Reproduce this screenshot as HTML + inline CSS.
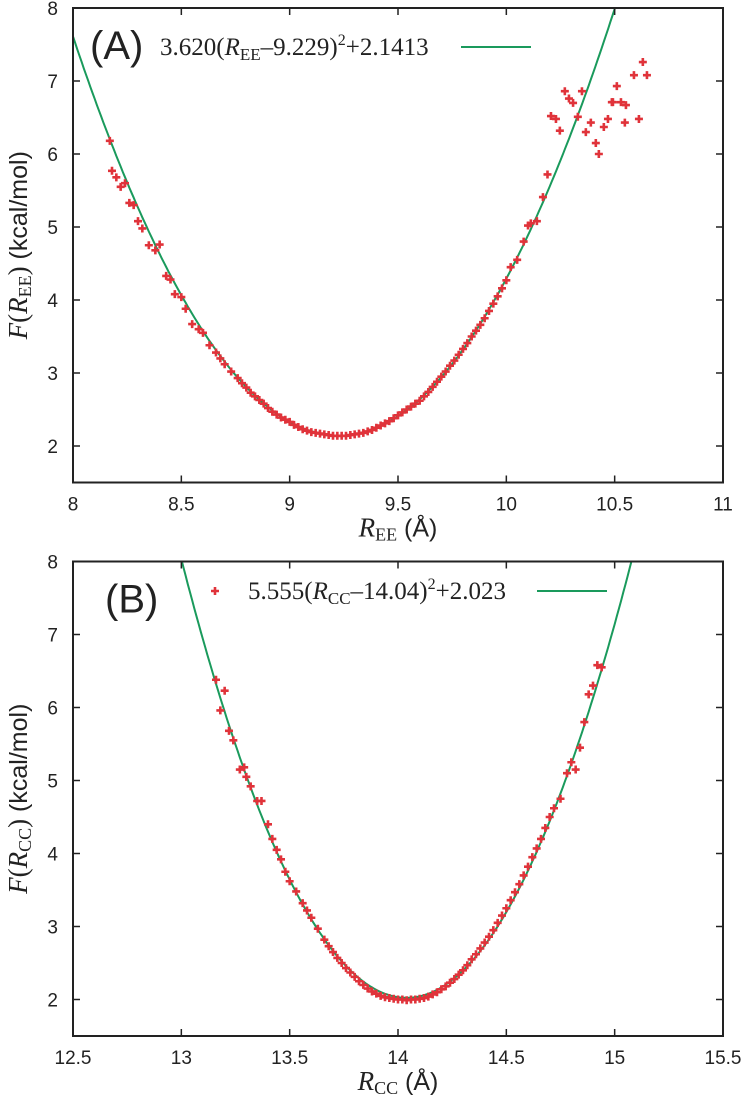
<!DOCTYPE html>
<html><head><meta charset="utf-8"><style>
html,body{margin:0;padding:0;background:#fff;}
svg text{font-family:"Liberation Sans",sans-serif;fill:#222;}
.ser{font-family:"Liberation Serif",serif !important;}
</style></head><body>
<svg id="chart" width="746" height="1100" viewBox="0 0 746 1100" xmlns="http://www.w3.org/2000/svg">
<g id="pa"></g>
<g id="pb"></g>
</svg>
<script>
// Panel A data
const aX = [8.17,8.18,8.2,8.22,8.24,8.26,8.28,8.3,8.32,8.35,8.38,8.4,8.43,8.45,8.47,8.5,8.52,8.55,8.58,8.6,8.63,8.66,8.68,8.7,8.73,8.76,8.78,8.8,8.82,8.84,8.86,8.88,8.9,8.92,8.94,8.96,8.98,9.0,9.02,9.04,9.06,9.08,9.1,9.12,9.14,9.16,9.18,9.2,9.22,9.24,9.26,9.28,9.3,9.32,9.34,9.36,9.38,9.4,9.42,9.44,9.46,9.48,9.5,9.52,9.54,9.56,9.58,9.6,9.62,9.64,9.66,9.68,9.7,9.72,9.74,9.76,9.78,9.8,9.82,9.84,9.86,9.88,9.9,9.92,9.94,9.96,9.98,10.0,10.02,10.05,10.08,10.1,10.113,10.141,10.169,10.19,10.206,10.229,10.247,10.27,10.289,10.308,10.33,10.349,10.367,10.39,10.413,10.427,10.45,10.469,10.487,10.492,10.51,10.529,10.547,10.552,10.589,10.612,10.63,10.649];
const aY = [6.18,5.77,5.68,5.55,5.6,5.33,5.3,5.08,4.98,4.75,4.68,4.76,4.33,4.28,4.08,4.04,3.88,3.67,3.6,3.55,3.38,3.28,3.2,3.12,3.02,2.93,2.86,2.8,2.73,2.68,2.63,2.58,2.52,2.47,2.43,2.39,2.36,2.33,2.29,2.26,2.23,2.21,2.19,2.18,2.17,2.16,2.15,2.14,2.14,2.14,2.14,2.15,2.16,2.17,2.18,2.2,2.22,2.25,2.28,2.31,2.34,2.38,2.42,2.46,2.5,2.54,2.58,2.62,2.68,2.74,2.81,2.88,2.95,3.02,3.1,3.17,3.25,3.33,3.41,3.5,3.58,3.66,3.75,3.85,3.95,4.05,4.16,4.27,4.45,4.55,4.8,5.02,5.05,5.08,5.41,5.72,6.52,6.48,6.32,6.86,6.76,6.7,6.51,6.86,6.3,6.43,6.15,6.0,6.37,6.48,6.71,6.71,6.93,6.71,6.43,6.67,7.08,6.48,7.26,7.08];
const aFit = [3.620, 9.229, 2.1413];
const aXTicks = ["8","8.5","9","9.5","10","10.5","11"];
const aYTicks = ["2","3","4","5","6","7","8"];
// Panel B data
const bX = [13.16,13.18,13.2,13.22,13.24,13.27,13.29,13.3,13.32,13.35,13.37,13.4,13.42,13.44,13.46,13.48,13.5,13.53,13.56,13.58,13.6,13.63,13.66,13.68,13.7,13.72,13.74,13.76,13.78,13.8,13.82,13.84,13.86,13.88,13.9,13.92,13.94,13.96,13.98,14.0,14.02,14.04,14.06,14.08,14.1,14.12,14.14,14.16,14.18,14.2,14.22,14.24,14.26,14.28,14.3,14.32,14.34,14.36,14.38,14.4,14.42,14.44,14.46,14.48,14.5,14.52,14.54,14.56,14.58,14.6,14.62,14.64,14.66,14.68,14.7,14.72,14.75,14.78,14.8,14.82,14.84,14.86,14.88,14.9,14.92,14.94];
const bY = [6.38,5.96,6.23,5.68,5.55,5.15,5.18,5.05,4.92,4.72,4.72,4.4,4.2,4.05,3.92,3.75,3.62,3.48,3.32,3.22,3.12,2.97,2.82,2.73,2.65,2.57,2.5,2.43,2.37,2.31,2.25,2.2,2.15,2.11,2.08,2.05,2.03,2.02,2.01,2.0,2.0,1.99,2.0,2.0,2.01,2.02,2.04,2.07,2.1,2.14,2.18,2.23,2.28,2.34,2.4,2.47,2.55,2.62,2.7,2.78,2.86,2.95,3.05,3.15,3.25,3.36,3.47,3.58,3.7,3.82,3.95,4.07,4.2,4.35,4.5,4.62,4.75,5.1,5.25,5.15,5.45,5.8,6.18,6.3,6.58,6.55];
const bFit = [5.555, 14.04, 2.023];
const bXTicks = ["12.5","13","13.5","14","14.5","15","15.5"];
const bYTicks = ["2","3","4","5","6","7","8"];

const NS="http://www.w3.org/2000/svg";
function mk(parent,tag,attrs){const e=document.createElementNS(NS,tag);for(const k in attrs)e.setAttribute(k,attrs[k]);parent.appendChild(e);return e;}

function panel(g,id,top,xmin,xTicks,yTicks,xs,ys,fit,sub,label,legendTxt,legendPlus,legX,lineX1,lineX2,legY){
  const L=73,R=723,T=top,B=top+474.5;
  const sx=v=>L+(v-xmin)/3*(R-L);
  const sy=v=>B-(v-1.5)/6.5*(B-T);
  const defs=mk(g,'defs',{});
  const cp=mk(defs,'clipPath',{id:'clip'+id});
  mk(cp,'rect',{x:L,y:T,width:R-L,height:B-T});
  let d='';
  for(let i=0;i<=300;i++){const x=xmin+3*i/300;const y=fit[0]*(x-fit[1])**2+fit[2];d+=(i?'L':'M')+sx(x).toFixed(1)+','+sy(y).toFixed(1);}
  const fc=mk(g,'path',{d:d,fill:'none',stroke:'#1a9a5c','stroke-width':2,'clip-path':'url(#clip'+id+')'});
  
  
  for(let i=0;i<xs.length;i++){
    const px=sx(xs[i]),py=sy(ys[i]);
    const p=mk(g,'path',{d:`M${px-4},${py}H${px+4}M${px},${py-4}V${py+4}`,stroke:'#e0333a','stroke-width':2.6});
    
    
  }
  const fr=mk(g,'rect',{x:L,y:T,width:R-L,height:B-T,fill:'none',stroke:'#222','stroke-width':2});
  
  
  xTicks.forEach((t,i)=>{
    const x=sx(parseFloat(t));
    mk(g,'path',{d:`M${x},${B}v-7M${x},${T}v7`,stroke:'#222','stroke-width':1.5});
    const tx=mk(g,'text',{x:x,y:B+28,'font-size':19,'text-anchor':'middle'});tx.textContent=t;
    
    
  });
  yTicks.forEach(t=>{
    const y=sy(parseFloat(t));
    mk(g,'path',{d:`M${L},${y}h7M${R},${y}h-7`,stroke:'#222','stroke-width':1.5});
    const tx=mk(g,'text',{x:58,y:y+7,'font-size':19,'text-anchor':'end'});tx.textContent=t;
    
    
  });
  const xt=mk(g,'text',{x:398,y:B+54,'font-size':25,'text-anchor':'middle'});
  xt.innerHTML=`<tspan class="ser" font-style="italic" font-size="27">R</tspan><tspan class="ser" font-size="18" dy="4">${sub}</tspan><tspan dy="-4"> (Å)</tspan>`;
  
  
  const yt=mk(g,'text',{x:0,y:0,'font-size':25,'text-anchor':'middle',transform:`translate(27,${(T+B)/2}) rotate(-90)`});
  yt.innerHTML=`<tspan class="ser" font-style="italic" font-size="27">F</tspan><tspan class="ser" font-size="27">(</tspan><tspan class="ser" font-style="italic" font-size="27">R</tspan><tspan class="ser" font-size="18" dy="4">${sub}</tspan><tspan class="ser" font-size="27" dy="-4">)</tspan> (kcal/mol)`;
  
  
  const pl=mk(g,'text',{x:id=='a'?90:105,y:T+51,'font-size':40});pl.textContent=label;
  
  
  const lg=mk(g,'text',{x:legX,y:legY+8,'font-size':25,'class':'ser'});
  lg.innerHTML=legendTxt;
  
  
  if(legendPlus){const px=legendPlus,py=legY;mk(g,'path',{d:`M${px-4},${py}H${px+4}M${px},${py-4}V${py+4}`,stroke:'#e0333a','stroke-width':2.6});}
  const ll=mk(g,'line',{x1:lineX1,x2:lineX2,y1:legY,y2:legY,stroke:'#1a9a5c','stroke-width':2});
  
  
}
panel(document.getElementById('pa'),'a',8,8,aXTicks,aYTicks,aX,aY,aFit,'EE','(A)',
 '3.620(<tspan font-style="italic">R</tspan><tspan font-size="17" dy="5">EE</tspan><tspan dy="-5">–9.229)</tspan><tspan font-size="16" dy="-10">2</tspan><tspan dy="10">+2.1413</tspan>',0,160,461,531,47);
panel(document.getElementById('pb'),'b',561.5,12.5,bXTicks,bYTicks,bX,bY,bFit,'CC','(B)',
 '5.555(<tspan font-style="italic">R</tspan><tspan font-size="17" dy="5">CC</tspan><tspan dy="-5">–14.04)</tspan><tspan font-size="16" dy="-10">2</tspan><tspan dy="10">+2.023</tspan>',215,248,537,607,591);
</script>
</body></html>
